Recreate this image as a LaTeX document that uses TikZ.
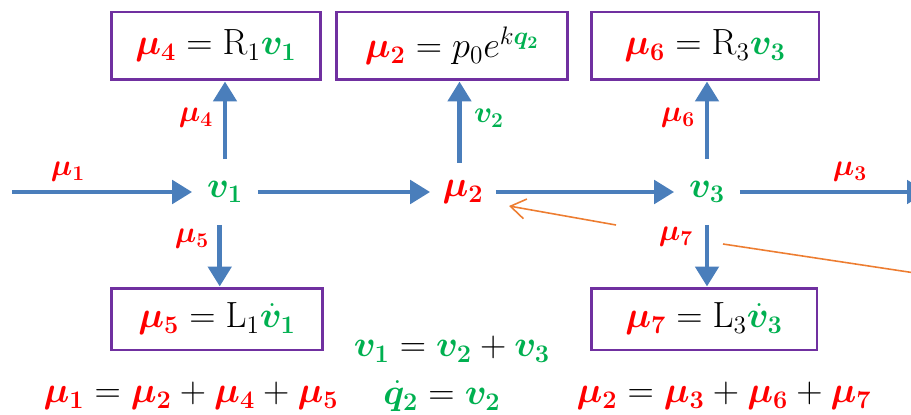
\documentclass[tikz,border=0pt]{standalone}
\usepackage{amsmath,bm}
\usetikzlibrary{arrows.meta,positioning}
\definecolor{FlowClr}{RGB}{74,126,187}
\definecolor{BoxClr}{RGB}{112,48,160}
\definecolor{EffClr}{RGB}{255,0,0}
\definecolor{FloClr}{RGB}{0,176,80}
\definecolor{NoteClr}{RGB}{237,125,49}
\newcommand{\eff}[1]{\textcolor{EffClr}{\bm{\mu}_{\bm{#1}}}}
\newcommand{\flo}[1]{\textcolor{FloClr}{\bm{v}_{\bm{#1}}}}

\begin{document}
\begin{tikzpicture}[x=0.02cm,y=-0.02cm,
  eqbox/.style={draw=BoxClr,line width=1.7pt,fill=white,minimum height=1.36cm,
    font=\fontsize{20}{24}\selectfont},
  junc/.style={minimum width=1.3cm,minimum height=1.3cm,inner sep=0pt,
    font=\fontsize{20.74}{25}\selectfont},
  lbl/.style={inner sep=1pt,font=\fontsize{17.28}{20}\selectfont},
  eqn/.style={inner sep=1pt,font=\fontsize{20.74}{25}\selectfont},
  flow/.style={draw=FlowClr,line width=2.8pt,-{Triangle[width=0.46cm,length=0.4cm]}},
  note/.style={draw=NoteClr,line width=0.9pt}]
\useasboundingbox (0,0) rectangle (911,415);

% junctions
\node[junc] (v1) at (225,192) {$\flo{1}$};
\node[junc] (mu2) at (463,192) {$\eff{2}$};
\node[junc] (v3) at (707,192) {$\flo{3}$};
\coordinate (inL) at (12,192);
\coordinate (outR) at (927,192);

% element laws
\node[eqbox,minimum width=4.2cm] (R1) at (216,46) {$\eff{4}=\mathrm{R}_1\flo{1}$};
\node[eqbox,minimum width=4.64cm] (C2) at (452,46) {$\eff{2}=p_0e^{k\textcolor{FloClr}{\bm{q}_{\bm{2}}}}$};
\node[eqbox,minimum width=4.56cm] (R3) at (705,46) {$\eff{6}=\mathrm{R}_3\flo{3}$};
\node[eqbox,minimum width=4.24cm,minimum height=1.24cm] (L1) at (217,319) {$\eff{5}=\mathrm{L}_1\textcolor{FloClr}{\dot{\bm{v}}_{\bm{1}}}$};
\node[eqbox,minimum width=4.52cm,minimum height=1.24cm] (L3) at (704,319) {$\eff{7}=\mathrm{L}_3\textcolor{FloClr}{\dot{\bm{v}}_{\bm{3}}}$};

% bonds
\draw[flow] (inL) -- (v1.west);
\draw[flow] (v1.east) -- (mu2.west);
\draw[flow] (mu2.east) -- (v3.west);
\draw[flow] (v3.east) -- (outR);
\draw[flow] (v1.north) -- (v1.north |- R1.south);
\draw[flow] ([xshift=-2pt,yshift=-2pt]mu2.north) -- ([xshift=-2pt]mu2.north |- C2.south);
\draw[flow] (v3.north) -- (v3.north |- R3.south);
\draw[flow] ([xshift=-3pt]v1.south) -- ([xshift=-3pt]v1.south |- L1.north);
\draw[flow] (v3.south) -- (v3.south |- L3.north);

% bond labels
\node[lbl] (l1) at (68,172) {$\eff{1}$};
\node[lbl] (l4) at (196,118) {$\eff{4}$};
\node[lbl] (l2) at (489,118) {$\flo{2}$};
\node[lbl] (l6) at (678,118) {$\eff{6}$};
\node[lbl] (l5) at (192,239) {$\eff{5}$};
\node[lbl] (l7) at (676,237) {$\eff{7}$};
\node[lbl] (l3) at (850,172) {$\eff{3}$};

% pointers
\coordinate (p1) at (616,225);
\coordinate (m2) at (509,206);
\coordinate (p2) at (723,244);
\coordinate (p3) at (935,276);
\draw[note,-{Straight Barb[length=0.3cm,width=0.4cm]}] (p1) -- (m2);
\draw[note] (p2) -- (p3);

% junction laws
\node[eqn] (j1) at (452,349) {$\flo{1}=\flo{2}+\flo{3}$};
\node[eqn] (j2) at (191,396) {$\eff{1}=\eff{2}+\eff{4}+\eff{5}$};
\node[eqn] (j3) at (442,396) {$\textcolor{FloClr}{\dot{\bm{q}}_{\bm{2}}}=\flo{2}$};
\node[eqn] (j4) at (724,396) {$\eff{2}=\eff{3}+\eff{6}+\eff{7}$};
\end{tikzpicture}
\end{document}
